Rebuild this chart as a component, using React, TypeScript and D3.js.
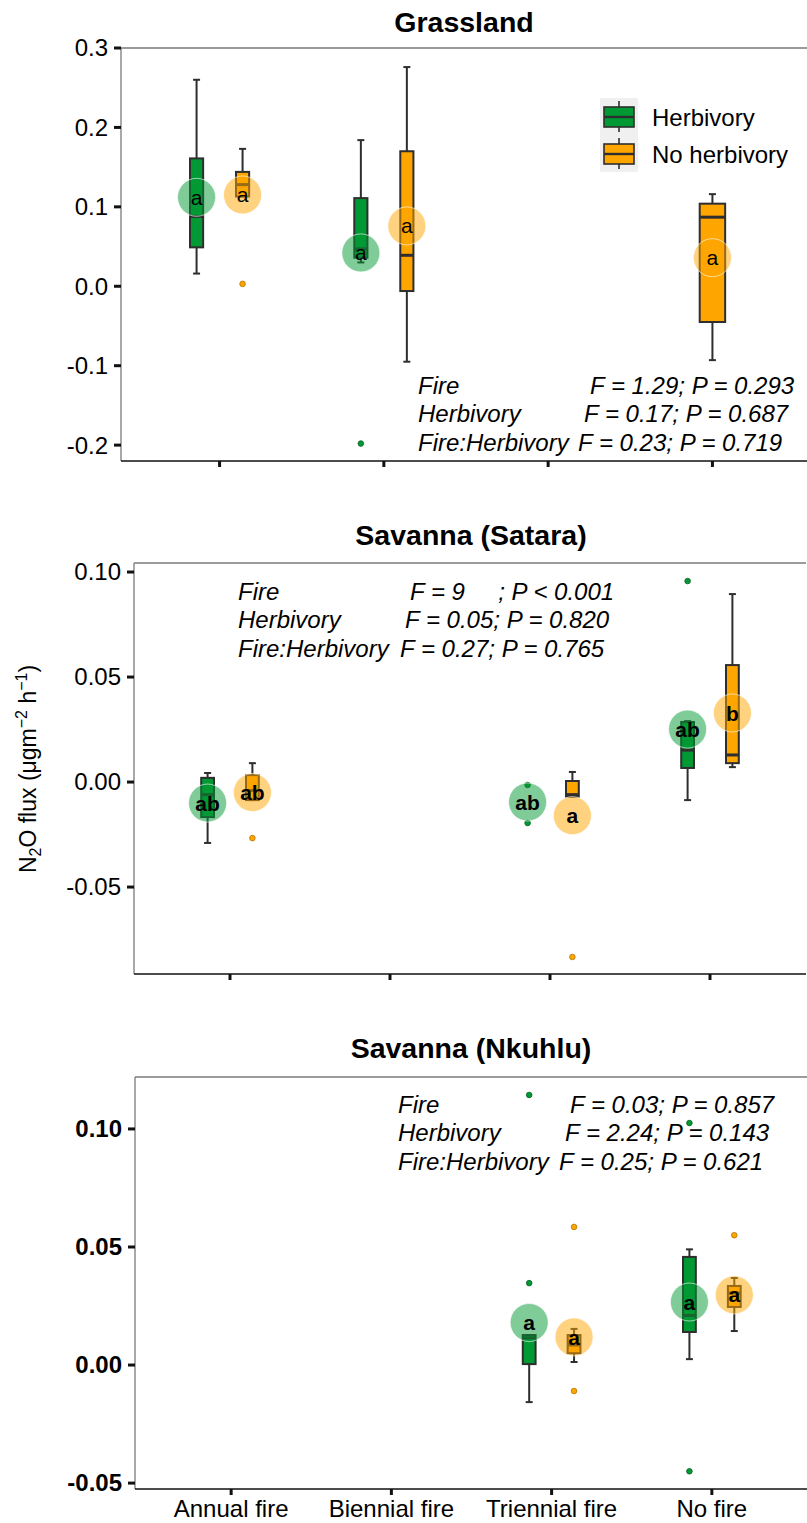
import * as d3 from "d3";
import React from "react";

// categories
const fireLevels = ["Annual fire", "Biennial fire", "Triennial fire", "No fire"];
const herbLevels = ["Herbivory", "No herbivory"];
const herbColors = ["#009933", "#FFA500"];
const herbDark = ["#0b5e25", "#b37400"];

type Box = {
  fire: string;
  herb: string;
  lo: number | null;
  q1: number | null;
  med: number | null;
  q3: number | null;
  hi: number | null;
  mean: number;
  letter: string;
  out: number[];
};

// Grassland
const grassBoxes: Box[] = [
  { fire: "Annual fire", herb: "Herbivory", lo: 0.016, q1: 0.049, med: 0.088, q3: 0.161, hi: 0.26, mean: 0.112, letter: "a", out: [] },
  { fire: "Annual fire", herb: "No herbivory", lo: 0.113, q1: 0.113, med: 0.128, q3: 0.144, hi: 0.173, mean: 0.115, letter: "a", out: [0.003] },
  { fire: "Biennial fire", herb: "Herbivory", lo: 0.03, q1: 0.036, med: 0.047, q3: 0.111, hi: 0.184, mean: 0.042, letter: "a", out: [-0.198] },
  { fire: "Biennial fire", herb: "No herbivory", lo: -0.095, q1: -0.006, med: 0.039, q3: 0.17, hi: 0.276, mean: 0.076, letter: "a", out: [] },
  { fire: "No fire", herb: "No herbivory", lo: -0.093, q1: -0.045, med: 0.087, q3: 0.104, hi: 0.116, mean: 0.036, letter: "a", out: [] },
];
const grassTicks = ["0.3", "0.2", "0.1", "0.0", "-0.1", "-0.2"];
const grassStats = [
  ["Fire", "F = 1.29; P = 0.293"],
  ["Herbivory", "F = 0.17; P = 0.687"],
  ["Fire:Herbivory", "F = 0.23; P = 0.719"],
];

// Savanna (Satara)
const sataraBoxes: Box[] = [
  { fire: "Annual fire", herb: "Herbivory", lo: -0.029, q1: -0.0167, med: -0.006, q3: 0.002, hi: 0.0043, mean: -0.01, letter: "ab", out: [] },
  { fire: "Annual fire", herb: "No herbivory", lo: -0.0086, q1: -0.0086, med: -0.004, q3: 0.0033, hi: 0.009, mean: -0.005, letter: "ab", out: [-0.0267] },
  { fire: "Triennial fire", herb: "Herbivory", lo: null, q1: null, med: null, q3: null, hi: null, mean: -0.0095, letter: "ab", out: [-0.0014, -0.0195] },
  { fire: "Triennial fire", herb: "No herbivory", lo: -0.007, q1: -0.007, med: -0.006, q3: 0.0005, hi: 0.0048, mean: -0.016, letter: "a", out: [-0.0833] },
  { fire: "No fire", herb: "Herbivory", lo: -0.0086, q1: 0.0067, med: 0.0152, q3: 0.0286, hi: 0.029, mean: 0.0252, letter: "ab", out: [0.0957] },
  { fire: "No fire", herb: "No herbivory", lo: 0.0071, q1: 0.009, med: 0.0129, q3: 0.0557, hi: 0.0895, mean: 0.0329, letter: "b", out: [] },
];
const sataraTicks = ["0.10", "0.05", "0.00", "-0.05"];
const sataraStats = [
  ["Fire", "F = 9     ; P < 0.001"],
  ["Herbivory", "F = 0.05; P = 0.820"],
  ["Fire:Herbivory", "F = 0.27; P = 0.765"],
];

// Savanna (Nkuhlu)
const nkuhluBoxes: Box[] = [
  { fire: "Triennial fire", herb: "Herbivory", lo: -0.0157, q1: 0.0004, med: 0.0115, q3: 0.0127, hi: 0.0127, mean: 0.018, letter: "a", out: [0.1144, 0.0347] },
  { fire: "Triennial fire", herb: "No herbivory", lo: 0.0013, q1: 0.005, med: 0.0085, q3: 0.0127, hi: 0.0153, mean: 0.0119, letter: "a", out: [0.0585, -0.011] },
  { fire: "No fire", herb: "Herbivory", lo: 0.0025, q1: 0.014, med: 0.021, q3: 0.0458, hi: 0.049, mean: 0.0267, letter: "a", out: [0.1025, -0.045] },
  { fire: "No fire", herb: "No herbivory", lo: 0.0144, q1: 0.0246, med: 0.0305, q3: 0.0335, hi: 0.0369, mean: 0.0297, letter: "a", out: [0.055] },
];
const nkuhluTicks = ["0.10", "0.05", "0.00", "-0.05"];
const nkuhluStats = [
  ["Fire", "F = 0.03; P = 0.857"],
  ["Herbivory", "F = 2.24; P = 0.143"],
  ["Fire:Herbivory", "F = 0.25; P = 0.621"],
];

const FONT = "'Liberation Sans', Arial, Helvetica, sans-serif";

const panels = [
  {
    title: "Grassland", boxes: grassBoxes, ticks: grassTicks, stats: grassStats,
    left: 121, right: 811, top: 48, bottom: 461, domain: [-0.22, 0.3],
    titleX: 464, titleY: 32, statX: 418, statY: 394, statFX: [590, 584, 578],
    boldTicks: false, boldLetters: false, legend: true, xLabels: false,
  },
  {
    title: "Savanna (Satara)", boxes: sataraBoxes, ticks: sataraTicks, stats: sataraStats,
    left: 134, right: 806, top: 563, bottom: 974, domain: [-0.0914, 0.1043],
    titleX: 471, titleY: 545, statX: 238, statY: 600, statFX: [410, 405, 400],
    boldTicks: false, boldLetters: true, legend: false, xLabels: false,
  },
  {
    title: "Savanna (Nkuhlu)", boxes: nkuhluBoxes, ticks: nkuhluTicks, stats: nkuhluStats,
    left: 135, right: 808, top: 1077, bottom: 1489, domain: [-0.0525, 0.122],
    titleX: 471, titleY: 1058, statX: 398, statY: 1113, statFX: [570, 565, 559],
    boldTicks: true, boldLetters: true, legend: false, xLabels: true,
  },
];

function Panel({ p }: { p: (typeof panels)[number] }) {
  const x = d3.scalePoint<string>().domain(fireLevels).range([p.left, p.right]).padding(0.6);
  const y = d3.scaleLinear().domain(p.domain).range([p.bottom, p.top]);
  const step = x.step();
  const dodge = step * 0.14;
  const bw = step * 0.08;

  const placed = p.boxes.map((b) => {
    const n = p.boxes.filter((o) => o.fire === b.fire).length;
    const hi = herbLevels.indexOf(b.herb);
    const cx = n === 1 ? x(b.fire)! : x(b.fire)! + (hi === 0 ? -dodge : dodge);
    const w = n === 1 ? step * 0.155 : bw;
    return { b, cx, w, hi };
  });

  return (
    <g>
      <text x={p.titleX} y={p.titleY} textAnchor="middle" fontSize={28.5} fontWeight="bold" fontFamily={FONT}>
        {p.title}
      </text>
      {/* border */}
      <line x1={p.left} x2={p.right} y1={p.top} y2={p.top} stroke="#7a7a7a" strokeWidth={1.3} />
      <line x1={p.left} x2={p.left} y1={p.top} y2={p.bottom} stroke="#7a7a7a" strokeWidth={1.3} />
      <line x1={p.left} x2={p.right} y1={p.bottom} y2={p.bottom} stroke="#111" strokeWidth={1.6} />
      {/* y ticks */}
      {p.ticks.map((t) => (
        <g key={t}>
          <line x1={p.left - 7} x2={p.left} y1={y(+t)} y2={y(+t)} stroke="#111" strokeWidth={3} />
          <text x={p.left - 13} y={y(+t)} dy="0.35em" textAnchor="end" fontSize={24}
            fontWeight={p.boldTicks ? "bold" : "normal"} fontFamily={FONT}>{t}</text>
        </g>
      ))}
      {/* x ticks */}
      {fireLevels.map((f) => (
        <g key={f}>
          <line x1={x(f)} x2={x(f)} y1={p.bottom} y2={p.bottom + 6} stroke="#111" strokeWidth={3} />
          {p.xLabels && (
            <text x={x(f)} y={p.bottom + 28} textAnchor="middle" fontSize={24} fontFamily={FONT}>{f}</text>
          )}
        </g>
      ))}
      {/* boxes */}
      {placed.map(({ b, cx, w, hi }, i) => (
        <g key={"b" + i}>
          {b.q1 !== null && (
            <g stroke="#2e2e2e" strokeWidth={2}>
              <line x1={cx} x2={cx} y1={y(b.hi!)} y2={y(b.q3!)} />
              <line x1={cx} x2={cx} y1={y(b.q1!)} y2={y(b.lo!)} />
              <line x1={cx - 3.5} x2={cx + 3.5} y1={y(b.hi!)} y2={y(b.hi!)} />
              <line x1={cx - 3.5} x2={cx + 3.5} y1={y(b.lo!)} y2={y(b.lo!)} />
              <rect x={cx - w / 2} width={w} y={y(b.q3!)} height={y(b.q1!) - y(b.q3!)} fill={herbColors[hi]} />
              <line x1={cx - w / 2} x2={cx + w / 2} y1={y(b.med!)} y2={y(b.med!)} strokeWidth={3} />
            </g>
          )}
          {b.out.map((o, j) => (
            <circle key={j} cx={cx} cy={y(o)} r={2.8} fill={herbColors[hi]} stroke={herbDark[hi]} strokeWidth={0.8} />
          ))}
        </g>
      ))}
      {/* mean circles and letters */}
      {placed.map(({ b, cx, hi }, i) => (
        <g key={"m" + i}>
          <circle cx={cx} cy={y(b.mean)} r={19} fill={herbColors[hi]} fillOpacity={0.5}
            stroke="#ffffff" strokeOpacity={0.6} strokeWidth={1} />
          <text x={cx} y={y(b.mean)} dy="0.36em" textAnchor="middle" fontSize={21}
            fontWeight={p.boldLetters ? "bold" : "normal"} fontFamily={FONT}>{b.letter}</text>
        </g>
      ))}
      {/* stats */}
      {p.stats.map((s, i) => (
        <g key={"s" + i} fontSize={24} fontStyle="italic" fontFamily={FONT}>
          <text x={p.statX} y={p.statY + i * 28.3}>{s[0]}</text>
          <text x={p.statFX[i]} y={p.statY + i * 28.3} xmlSpace="preserve" style={{ whiteSpace: "pre" }}>{s[1]}</text>
        </g>
      ))}
      {p.legend && (
        <g>
          <rect x={600} y={98} width={38} height={74} fill="#f0f0f0" />
          {herbLevels.map((h, i) => {
            const cy = 117 + i * 37;
            return (
              <g key={h}>
                <g stroke="#2e2e2e" strokeWidth={1.6}>
                  <line x1={619} x2={619} y1={cy - 16} y2={cy + 15} />
                  <rect x={604} y={cy - 10} width={30} height={20} fill={herbColors[i]} />
                  <line x1={604} x2={634} y1={cy} y2={cy} strokeWidth={2.4} />
                </g>
                <text x={652} y={cy} dy="0.36em" fontSize={24} fontFamily={FONT}>{h}</text>
              </g>
            );
          })}
        </g>
      )}
    </g>
  );
}

export default function App() {
  return (
    <div style={{ position: "absolute", left: 0, top: 0 }}>
      <svg width={807} height={1523} style={{ display: "block", background: "#fff" }}>
        {panels.map((p) => (
          <Panel key={p.title} p={p} />
        ))}
        <text transform="translate(36,769) rotate(-90)" textAnchor="middle" fontSize={23} fontFamily={FONT}>
          <tspan>N</tspan>
          <tspan dy={5} fontSize={16}>2</tspan>
          <tspan dy={-5}>O flux (μgm</tspan>
          <tspan dy={-9} fontSize={16}>−2</tspan>
          <tspan dy={9}> h</tspan>
          <tspan dy={-9} fontSize={16}>−1</tspan>
          <tspan dy={9}>)</tspan>
        </text>
      </svg>
    </div>
  );
}
